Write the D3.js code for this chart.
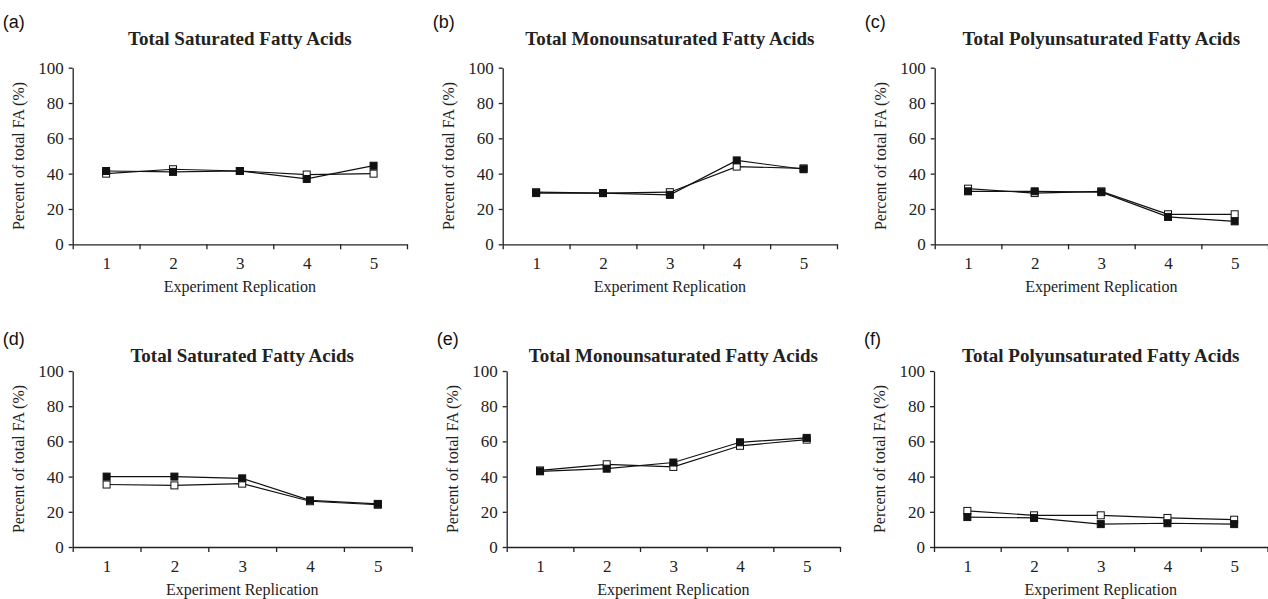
<!DOCTYPE html>
<html>
<head>
<meta charset="utf-8">
<script src="https://cdn.jsdelivr.net/npm/d3@7"></script>
<style>
  body { margin: 0; background: #fff; }
  svg { display: block; }
  .axis path, .axis line { stroke: #222; stroke-width: 1.3; fill: none; }
  .title { font-family: "Liberation Serif", "Times New Roman", serif; font-size: 19px; font-weight: bold; fill: #222; }
  .label { font-family: "Liberation Serif", "Times New Roman", serif; font-size: 16px; fill: #222; }
  .panel { font-family: "Liberation Sans", Arial, sans-serif; font-size: 18px; fill: #111; }
  .line { fill: none; stroke: #111; stroke-width: 1.2; }
</style>
</head>
<body>
<script>
const replications = [1, 2, 3, 4, 5];
const yTicks = [0, 20, 40, 60, 80, 100];
const panelNames = ["(a)", "(b)", "(c)", "(d)", "(e)", "(f)"];
const titles = ["Total Saturated Fatty Acids", "Total Monounsaturated Fatty Acids", "Total Polyunsaturated Fatty Acids",
                "Total Saturated Fatty Acids", "Total Monounsaturated Fatty Acids", "Total Polyunsaturated Fatty Acids"];

// open squares
const openValues = [
  [40, 42.5, 41.5, 39.5, 40],
  [29.5, 29, 29.5, 44, 43],
  [31.5, 29, 30, 17, 17],
  [35.5, 35, 36, 26, 24],
  [43.5, 47, 45.5, 57.5, 61],
  [20.5, 18, 18, 16.5, 15.5]
];
// filled squares
const filledValues = [
  [41.5, 41, 41.5, 37, 44.5],
  [29, 29, 28, 47.5, 42.5],
  [30, 30, 29.5, 15.5, 13],
  [40, 40, 39, 26.5, 24.5],
  [43, 44.5, 48, 59.5, 62],
  [17, 16.5, 13, 13.5, 13]
];

const width = 1268,
      height = 599;

// plot boxes: left, right, top, bottom
const boxes = [
  [72.7, 407, 67.7, 244.3],
  [502.7, 837, 67.7, 244.3],
  [934.7, 1268, 67.7, 244.3],
  [72.7, 411.7, 371, 547],
  [506.7, 840, 371, 547],
  [934, 1267.5, 371, 547]
];

let svg = d3.select("body")
    .append("svg")
    .attr("width", width)
    .attr("height", height);

function styleTicks(g) {
    g.selectAll("text")
        .style("font-family", "'Liberation Serif', 'Times New Roman', serif")
        .style("font-size", "17px")
        .style("fill", "#222");
}

function drawPanel(i) {
    let b = boxes[i];
    let top = b[2], bottom = b[3];
    let rowTop = i < 3 ? 0 : 317;

    let x = d3.scaleLinear().domain([0.5, 5.5]).range([b[0], b[1]]);
    let y = d3.scaleLinear().domain([0, 100]).range([bottom, top]);

    let yAxis = d3.axisLeft(y).tickValues(yTicks).tickSize(4).tickSizeOuter(0).tickPadding(5).tickFormat(d3.format("d"));
    let xTickAxis = d3.axisBottom(x).tickValues([0.5, 1.5, 2.5, 3.5, 4.5, 5.5]).tickSize(5).tickSizeOuter(0).tickFormat("");
    let xLabelAxis = d3.axisBottom(x).tickValues(replications).tickSize(0).tickPadding(13).tickFormat(d3.format("d"));

    svg.append("g")
        .attr("class", "axis")
        .attr("transform", "translate(0," + bottom + ")")
        .call(xTickAxis);

    let xl = svg.append("g")
        .attr("class", "axis")
        .attr("transform", "translate(0," + bottom + ")")
        .call(xLabelAxis);
    xl.select(".domain").remove();
    styleTicks(xl);

    let yl = svg.append("g")
        .attr("class", "axis")
        .attr("transform", "translate(" + b[0] + ",0)")
        .call(yAxis);
    styleTicks(yl);

    let line = d3.line()
        .x(function (d, j) {return x(replications[j]);})
        .y(function (d) {return y(d);});

    let series = [
        {values: openValues[i], fill: "#fff"},
        {values: filledValues[i], fill: "#111"}
    ];

    series.forEach(function (s) {
        svg.append("path")
            .attr("class", "line")
            .attr("d", line(s.values));
    });

    series.forEach(function (s) {
        svg.selectAll(null)
            .data(s.values)
            .enter()
            .append("rect")
            .attr("x", function (d, j) {return x(replications[j]) - 3.5;})
            .attr("y", function (d) {return y(d) - 3.5;})
            .attr("width", 7)
            .attr("height", 7)
            .attr("fill", s.fill)
            .attr("stroke", "#111")
            .attr("stroke-width", 1);
    });

    let mid = (b[0] + b[1]) / 2;

    svg.append("text")
        .attr("class", "title")
        .attr("text-anchor", "middle")
        .attr("x", mid)
        .attr("y", i < 3 ? 45 : 362)
        .text(titles[i]);

    svg.append("text")
        .attr("class", "panel")
        .attr("x", b[0] - 70)
        .attr("y", rowTop + 28)
        .text(panelNames[i]);

    svg.append("text")
        .attr("class", "label")
        .attr("text-anchor", "middle")
        .attr("x", mid)
        .attr("y", bottom + 48)
        .text("Experiment Replication");

    svg.append("text")
        .attr("class", "label")
        .attr("text-anchor", "middle")
        .attr("transform", "translate(" + (b[0] - 49) + "," + ((top + bottom) / 2) + ")rotate(-90)")
        .text("Percent of total FA (%)");
}

for (let i = 0; i < 6; i++) {
    drawPanel(i);
}
</script>
</body>
</html>
